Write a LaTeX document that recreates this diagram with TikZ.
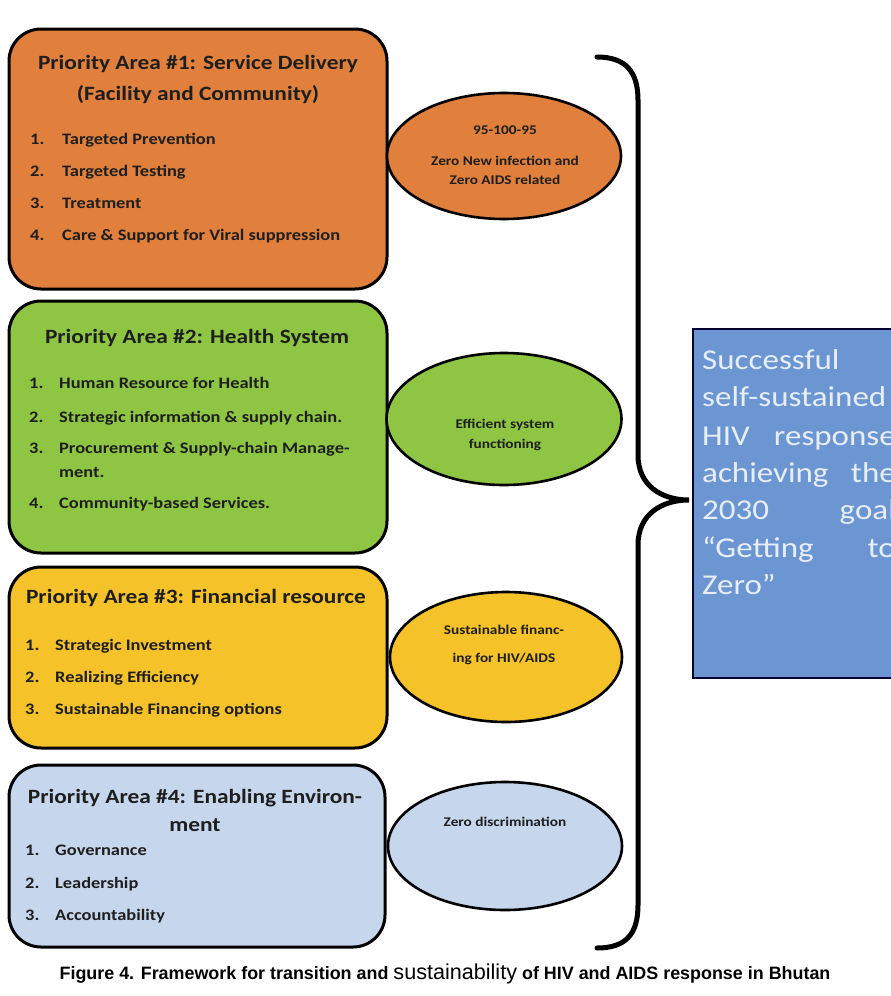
\documentclass[tikz,border=0pt]{standalone}
\usepackage{fontspec}
\setmainfont{Carlito}[FakeStretch=1.15]
\newfontfamily\capfont{Liberation Sans}
\usetikzlibrary{shapes.geometric}
\definecolor{cOrange}{RGB}{224,128,60}
\definecolor{cGreen}{RGB}{142,198,68}
\definecolor{cYellow}{RGB}{245,194,42}
\definecolor{cLblue}{RGB}{198,214,236}
\definecolor{cBlue}{RGB}{108,150,210}
\definecolor{cBlueText}{RGB}{232,238,248}
\definecolor{cInk}{RGB}{30,30,30}
\tikzset{
  areabox/.style={draw=black, line width=3pt, rounded corners=32pt},
  goal/.style={draw=black, line width=2.6pt, ellipse, inner sep=0pt},
  ttl/.style={font=\bfseries\fontsize{20.3}{24}\selectfont, text=cInk, inner sep=0pt, anchor=base},
  num/.style={font=\bfseries\fontsize{16}{18}\selectfont, text=cInk, inner sep=0pt, anchor=base west},
  itm/.style={font=\bfseries\fontsize{16}{18}\selectfont, text=cInk, inner sep=0pt, anchor=base west},
  etx/.style={font=\bfseries\fontsize{13.3}{15}\selectfont, text=cInk, inner sep=0pt, anchor=base},
  btx/.style={font=\fontsize{28.7}{32}\selectfont, text=cBlueText, inner sep=0pt, anchor=base west},
  btxr/.style={font=\fontsize{28.7}{32}\selectfont, text=cBlueText, inner sep=0pt, anchor=base east},
}
\begin{document}
\begin{tikzpicture}[x=1pt,y=-1pt]
\useasboundingbox (0,0) rectangle (891,996);
\fill[white] (0,0) rectangle (891,996);
\begin{scope}
\clip (0,0) rectangle (891,996);
% boxes
\draw[areabox, fill=cOrange] (9,29) rectangle (387,289);
\draw[areabox, fill=cGreen] (9,301) rectangle (387,553);
\draw[areabox, fill=cYellow] (9,567) rectangle (387,748);
\draw[areabox, fill=cLblue] (9,765) rectangle (385,947);
% box 1
\node[ttl] (t1a) at (198,69) {Priority Area \#1: Service Delivery};
\node[ttl] (t1b) at (198,100) {(Facility and Community)};
\node[num] (n11) at (30,144) {1.};\node[itm] (i11) at (62,144) {Targeted Prevention};
\node[num] (n12) at (30,176) {2.};\node[itm] (i12) at (62,176) {Targeted Testing};
\node[num] (n13) at (30,208) {3.};\node[itm] (i13) at (62,208) {Treatment};
\node[num] (n14) at (30,240) {4.};\node[itm] (i14) at (62,240) {Care \& Support for Viral suppression};
% box 2
\node[ttl] (t2a) at (197,343) {Priority Area \#2: Health System};
\node[num] (n21) at (29,388) {1.};\node[itm] (i21) at (59,388) {Human Resource for Health};
\node[num] (n22) at (29,422) {2.};\node[itm] (i22) at (59,422) {Strategic information \& supply chain.};
\node[num] (n23) at (29,453) {3.};\node[itm] (i23) at (59,453) {Procurement \& Supply-chain Manage-};
\node[itm] (i23b) at (59,477) {ment.};
\node[num] (n24) at (29,508) {4.};\node[itm] (i24) at (59,508) {Community-based Services.};
% box 3
\node[ttl] (t3a) at (196,603) {Priority Area \#3: Financial resource};
\node[num] (n31) at (25,650) {1.};\node[itm] (i31) at (55,650) {Strategic Investment};
\node[num] (n32) at (25,682) {2.};\node[itm] (i32) at (55,682) {Realizing Efficiency};
\node[num] (n33) at (25,714) {3.};\node[itm] (i33) at (55,714) {Sustainable Financing options};
% box 4
\node[ttl] (t4a) at (195,803) {Priority Area \#4: Enabling Environ-};
\node[ttl] (t4b) at (195,831) {ment};
\node[num] (n41) at (25,855) {1.};\node[itm] (i41) at (55,855) {Governance};
\node[num] (n42) at (25,888) {2.};\node[itm] (i42) at (55,888) {Leadership};
\node[num] (n43) at (25,920) {3.};\node[itm] (i43) at (55,920) {Accountability};
% ellipses
\node[goal, fill=cOrange, minimum width=234pt, minimum height=126pt] (e1) at (504,156) {};
\node[etx] (e1a) at (505,134) {95-100-95};
\node[etx] (e1b) at (505,165) {Zero New infection and};
\node[etx] (e1c) at (505,184) {Zero AIDS related};
\node[goal, fill=cGreen, minimum width=235pt, minimum height=132pt] (e2) at (504,419) {};
\node[etx] (e2a) at (505,428) {Efficient system};
\node[etx] (e2b) at (505,448) {functioning};
\node[goal, fill=cYellow, minimum width=232pt, minimum height=130pt] (e3) at (506,657) {};
\node[etx] (e3a) at (504,634) {Sustainable financ-};
\node[etx] (e3b) at (504,662) {ing for HIV/AIDS};
\node[goal, fill=cLblue, minimum width=234pt, minimum height=128pt] (e4) at (505,846) {};
\node[etx] (e4a) at (505,826) {Zero discrimination};
% brace
\draw[line width=5pt, line cap=round] (597,57) .. controls (626,57) and (638,72) .. (638,100) -- (638,455) .. controls (638,486) and (662,500) .. (689,500) .. controls (662,500) and (638,514) .. (638,545) -- (638,905) .. controls (638,934) and (626,948) .. (597,948);
% result box
\draw[fill=cBlue, draw=black!80!blue, line width=2pt] (693,329) rectangle (920,678);
\node[btx] (r1) at (702,369) {Successful};
\node[btx] (r2) at (702,406) {self-sustained};
\node[btx] (r3) at (702,445) {HIV};\node[btxr] (r3b) at (896,445) {response};
\node[btx] (r4) at (702,482) {achieving};\node[btxr] (r4b) at (896,482) {the};
\node[btx] (r5) at (702,519) {2030};\node[btxr] (r5b) at (896,519) {goal};
\node[btx] (r6) at (702,557) {“Getting};\node[btxr] (r6b) at (896,557) {to};
\node[btx] (r7) at (702,594) {Zero”};
\end{scope}
% caption
\node[font=\capfont\bfseries\fontsize{17.9}{20}\selectfont, inner sep=0pt, anchor=base] (cap) at (445,979) {Figure 4. Framework for transition and {\mdseries\fontsize{21.6}{23}\selectfont sustainability} of HIV and AIDS response in Bhutan};
\end{tikzpicture}
\end{document}
